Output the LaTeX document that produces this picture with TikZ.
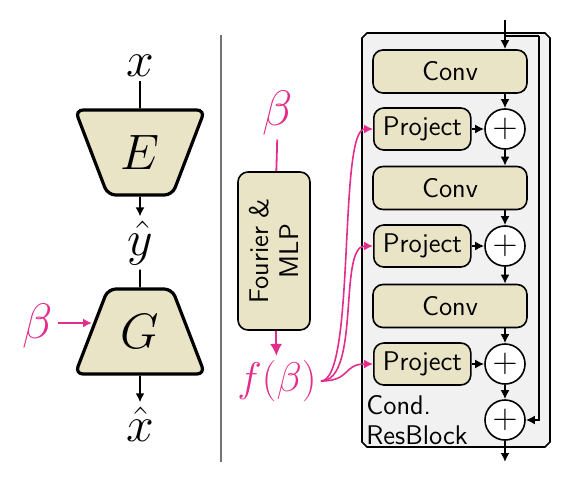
\documentclass[tikz,border=0pt]{standalone}
\usepackage{amsmath,amssymb}
\usepackage{tikz}
\usetikzlibrary{positioning,calc,arrows.meta,shapes.geometric}
\definecolor{boxfill}{RGB}{234,228,198}
\definecolor{blockfill}{RGB}{241,241,241}
\definecolor{condpink}{RGB}{226,45,138}
\newcommand{\lbl}{\fontsize{24}{28}\selectfont}
\newcommand{\sflbl}{\fontsize{13.5}{15}\selectfont\sffamily}
\tikzset{
codec/.style={trapezium,trapezium stretches=true,draw=black,line width=1.6pt,fill=boxfill,
rounded corners=4pt,minimum width=65pt,minimum height=42.5pt,inner sep=0pt,font=\lbl},
var/.style={inner sep=2pt,font=\lbl},
pinkvar/.style={inner sep=2pt,font=\lbl,text=condpink},
layer/.style={draw=black,line width=0.8pt,fill=boxfill,rounded corners=5pt,inner sep=0pt,font=\sflbl},
addop/.style={circle,draw=black,line width=0.8pt,fill=white,minimum size=20pt,inner sep=0pt,
font=\fontsize{18.5}{20}\selectfont},
blockline/.style={draw=black,line width=0.8pt,fill=blockfill},
arr/.style={-{Latex[length=4.5pt,width=4.5pt]},line width=0.9pt},
pinkarr/.style={-{Latex[length=6pt,width=6pt]},line width=0.9pt,condpink},
condline/.style={-{Latex[length=4.5pt,width=4.5pt]},line width=0.8pt,condpink}
}
\begin{document}
\begin{tikzpicture}[x=0.5pt,y=-0.5pt]
\useasboundingbox (0,0) rectangle (583,487);
% left: encoder / generator
\node[var] (x) at (140,66) {$x$};
\node[codec,shape border rotate=180] (enc) at (140,152.5) {$E$};
\node[var] (yhat) at (140,243) {$\hat{y}$};
\node[codec] (gen) at (140,331.5) {$G$};
\node[var] (xhat) at (140,424) {$\hat{x}$};
\node[pinkvar] (beta) at (38,326) {$\beta$};
\draw[line width=0.9pt] (x) -- (enc);
\draw[arr] (enc) -- (yhat);
\draw[line width=0.9pt] (yhat) -- (gen);
\draw[arr] (gen) -- (xhat);
\draw[condline,line width=1pt] (beta.east |- 0,323) -- (92,323);
\draw[line width=1pt,black!55] (221,35) -- (221,462);
% middle: conditioning
\node[pinkvar] (betab) at (278,113) {$\beta$};
\node[layer,rotate=90,minimum width=79pt,minimum height=36pt,align=center] (mlp) at (274,251) {Fourier \&\\MLP};
\node[pinkvar,font=\fontsize{21}{24}\selectfont] (fb) at (277,381) {$f(\beta)$};
\draw[line width=0.9pt,condpink] (betab) -- (mlp);
\draw[pinkarr] (mlp) -- (fb);
% right: conditional resblock
\draw[blockline] (362,38) -- (367,33) -- (545,33) -- (550,38) -- (550,442) -- (545,447)
  -- (367,447) -- (362,442) -- cycle;
\node[anchor=south west,align=left,inner sep=1pt,font=\sflbl] (blocklbl) at (364,447) {Cond.\\ResBlock};
\node[layer,minimum width=77pt,minimum height=21.5pt] (conva) at (450,71.5) {Conv};
\node[layer,minimum width=48.5pt,minimum height=21pt,anchor=west] (proja) at (373,129) {Project};
\node[addop] (adda) at (505,129) {$+$};
\node[layer,minimum width=77pt,minimum height=21.5pt] (convb) at (450,188) {Conv};
\node[layer,minimum width=48.5pt,minimum height=21pt,anchor=west] (projb) at (373,246) {Project};
\node[addop] (addb) at (505,246) {$+$};
\node[layer,minimum width=77pt,minimum height=21.5pt] (convc) at (450,306) {Conv};
\node[layer,minimum width=48.5pt,minimum height=21pt,anchor=west] (projc) at (373,364) {Project};
\node[addop] (addc) at (505,364) {$+$};
\node[addop] (addd) at (505,420) {$+$};
\coordinate (in) at (505,20);
\coordinate (split) at (505,36);
\coordinate (out) at (505,462);
\draw[arr] (in) -- (conva.north -| in);
\draw[line width=0.9pt] (split) -- ++(34,0) coordinate (skip);
\draw[arr] (skip) |- (addd);
\draw[arr] (conva.south -| adda) -- (adda);
\draw[arr] (adda) -- (convb.north -| adda);
\draw[arr] (convb.south -| addb) -- (addb);
\draw[arr] (addb) -- (convc.north -| addb);
\draw[arr] (convc.south -| addc) -- (addc);
\draw[arr] (addc) -- (addd);
\draw[arr] (addd) -- (out);
\draw[arr] (proja) -- (adda);
\draw[arr] (projb) -- (addb);
\draw[arr] (projc) -- (addc);
% conditioning curves
\draw[condline] (fb.east) .. controls +(35,0) and +(-35,0) .. (proja.west);
\draw[condline] (fb.east) .. controls +(40,0) and +(-35,0) .. (projb.west);
\draw[condline] (fb.east) .. controls +(30,0) and +(-30,0) .. (projc.west);
\end{tikzpicture}
\end{document}
